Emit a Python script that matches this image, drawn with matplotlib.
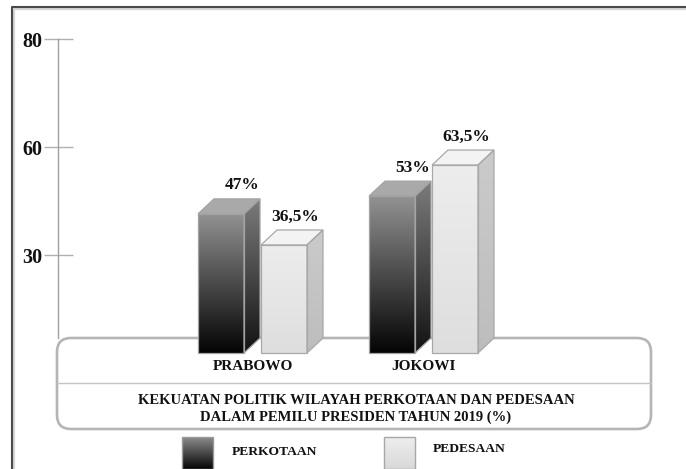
import numpy as np
import matplotlib
matplotlib.use("Agg")
import matplotlib.pyplot as plt
from matplotlib.patches import Rectangle, Polygon, FancyBboxPatch
from matplotlib.colors import LinearSegmentedColormap

# ---- data ----
candidates = ["PRABOWO", "JOKOWI"]
series_names = ["PERKOTAAN", "PEDESAAN"]
perkotaan = [47, 53]
pedesaan = [36.5, 63.5]
labels_perkotaan = ["47%", "53%"]
labels_pedesaan = ["36,5%", "63,5%"]
axis_tick_labels = ["30", "60", "80"]
title_lines = ["KEKUATAN POLITIK WILAYAH PERKOTAAN DAN PEDESAAN",
               "DALAM PEMILU PRESIDEN TAHUN 2019 (%)"]

# ---- layout (pixels) ----
W, H, DPI = 686, 469, 100
BASE_PX = 353          # bar floor
PX_PER_UNIT = 2.96     # vertical scale
GROUP0_PX = 252.5      # first group centre
GROUP_STEP_PX = 171    # distance between groups

SERIF = ["Liberation Serif", "DejaVu Serif"]
plt.rcParams["font.family"] = SERIF

fig = plt.figure(figsize=(W / DPI, H / DPI), dpi=DPI)
fig.patch.set_facecolor("white")

# decoration layer in pixel coordinates
deco = fig.add_axes([0, 0, 1, 1], zorder=0)
deco.set_xlim(0, W)
deco.set_ylim(H, 0)
deco.axis("off")
deco.patch.set_alpha(0)

# outer frame (left and top edges) with a soft shadow
deco.plot([13.5, 13.5, W], [H, 9.5, 9.5], color="#d6d6d6", lw=1.6, solid_capstyle="butt")
deco.plot([11.5, 11.5, W], [H, 7.5, 7.5], color="#4a4a4a", lw=1.5, solid_capstyle="butt")

# rounded label box under the bars
box = FancyBboxPatch((57, 338), 594, 91, boxstyle="round,pad=0,rounding_size=14",
                     facecolor="white", edgecolor="#b5b5b5", lw=1.9, zorder=2)
deco.add_patch(box)
deco.plot([57, 651], [383, 383], color="#c4c4c4", lw=1.0, zorder=3)

for i, line in enumerate(title_lines):
    deco.text(356, 400 + i * 17, line, ha="center", va="center",
              fontsize=10.5, fontweight="bold", color="#111111", zorder=4)


def gradient_fill(axis, patch, extent, top_color, bottom_color, z):
    cmap = LinearSegmentedColormap.from_list("g", [bottom_color, top_color])
    grad = np.linspace(1, 0, 256).reshape(-1, 1)
    im = axis.imshow(grad, cmap=cmap, vmin=0, vmax=1, extent=extent,
                     origin="upper", aspect="auto", interpolation="bilinear", zorder=z)
    im.set_clip_path(patch)
    return im


# legend
legend_styles = [
    dict(x=182, text_x=232, text_y=452, top="#8c8c8c", bottom="#050505", edge="#9a9a9a"),
    dict(x=384, text_x=433, text_y=449, top="#eeeeee", bottom="#d8d8d8", edge="#a8a8a8"),
]
for name, st in zip(series_names, legend_styles):
    sw = Rectangle((st["x"], 437), 31, 32, facecolor="none", edgecolor=st["edge"], lw=1.0, zorder=5)
    deco.add_patch(sw)
    gradient_fill(deco, sw, (st["x"], st["x"] + 31, 469, 437), st["top"], st["bottom"], 4)
    deco.text(st["text_x"], st["text_y"], name, ha="left", va="center",
              fontsize=9.7, fontweight="bold", color="#111111", zorder=5)
deco.set_xlim(0, W)
deco.set_ylim(H, 0)

# value axis with its tick marks
tick_top_px, tick_step_px, axis_bottom_px = 39, 108, 338
tax = fig.add_axes([58 / W, (H - axis_bottom_px) / H, 0.0001, (axis_bottom_px - tick_top_px) / H], zorder=0.5)
tax.patch.set_alpha(0)
n_ticks = len(axis_tick_labels)
tick_pos = np.arange(n_ticks)
low = (n_ticks - 1) - (axis_bottom_px - tick_top_px) / tick_step_px
tax.set_ylim(low, n_ticks - 1 + 1e-4)
tax.set_yticks(tick_pos)
tax.set_yticklabels(axis_tick_labels)
tax.set_xticks([])
for side in ["top", "right", "bottom"]:
    tax.spines[side].set_visible(False)
tax.spines["left"].set_color("#a0a0a0")
tax.spines["left"].set_linewidth(1.0)
tax.tick_params(axis="y", direction="inout", length=29 * 0.72, width=1.0,
                color="#b0b0b0", pad=0.7, labelsize=14.5)
for lab in tax.get_yticklabels():
    lab.set_fontweight("bold")
    lab.set_color("#111111")

# bar axes: value scale anchored to the floor
ax = fig.add_axes([0, 0, 1, 1], zorder=1)
ax.patch.set_alpha(0)
ax.axis("off")
xlim = (-GROUP0_PX / GROUP_STEP_PX, (W - GROUP0_PX) / GROUP_STEP_PX)
ylim = (-(H - BASE_PX) / PX_PER_UNIT, BASE_PX / PX_PER_UNIT)

bar_w = 46 / GROUP_STEP_PX
bar_off = 31.5 / GROUP_STEP_PX
DX = 16 / GROUP_STEP_PX
DY = 15 / PX_PER_UNIT

x = np.arange(len(candidates))
series = [
    dict(vals=perkotaan, labels=labels_perkotaan, sign=-1, label_dx=21,
         front=("#929292", "#040404"), side=("#7c7c7c", "#121212"), top="#a9a9a9", edge="#a3a3a3"),
    dict(vals=pedesaan, labels=labels_pedesaan, sign=1, label_dx=11.5,
         front=("#ededed", "#dedede"), side=("#cbcbcb", "#bdbdbd"), top="#f3f3f3", edge="#a8a8a8"),
]

for s in series:
    bars = ax.bar(x + s["sign"] * bar_off, s["vals"], width=bar_w,
                  facecolor="none", edgecolor=s["edge"], lw=0.9, zorder=6)
    for rect, lab in zip(bars, s["labels"]):
        x0 = rect.get_x()
        x1 = x0 + rect.get_width()
        h = rect.get_height()
        gradient_fill(ax, rect, (x0, x1, 0, h), s["front"][0], s["front"][1], 3)
        side = Polygon([(x1, 0), (x1 + DX, DY), (x1 + DX, h + DY), (x1, h)],
                       closed=True, facecolor="none", edgecolor=s["edge"], lw=0.9, zorder=6)
        ax.add_patch(side)
        gradient_fill(ax, side, (x1, x1 + DX, 0, h + DY), s["side"][0], s["side"][1], 3)
        top = Polygon([(x0, h), (x1, h), (x1 + DX, h + DY), (x0 + DX, h + DY)],
                      closed=True, facecolor=s["top"], edgecolor=s["edge"], lw=0.9, zorder=5)
        ax.add_patch(top)
        ax.annotate(lab, xy=(x0 + bar_w / 2, h),
                    xytext=(s["label_dx"] * 0.72, (15 + 13.5) * 0.72), textcoords="offset points",
                    ha="center", va="center", fontsize=12.5, fontweight="bold", color="#111111")

for i, name in enumerate(candidates):
    ax.annotate(name, xy=(x[i], 0), xytext=(0, -14 * 0.72), textcoords="offset points",
                ha="center", va="center", fontsize=11, fontweight="bold", color="#111111")

ax.set_xlim(*xlim)
ax.set_ylim(*ylim)

fig.savefig("out.png", dpi=DPI)
